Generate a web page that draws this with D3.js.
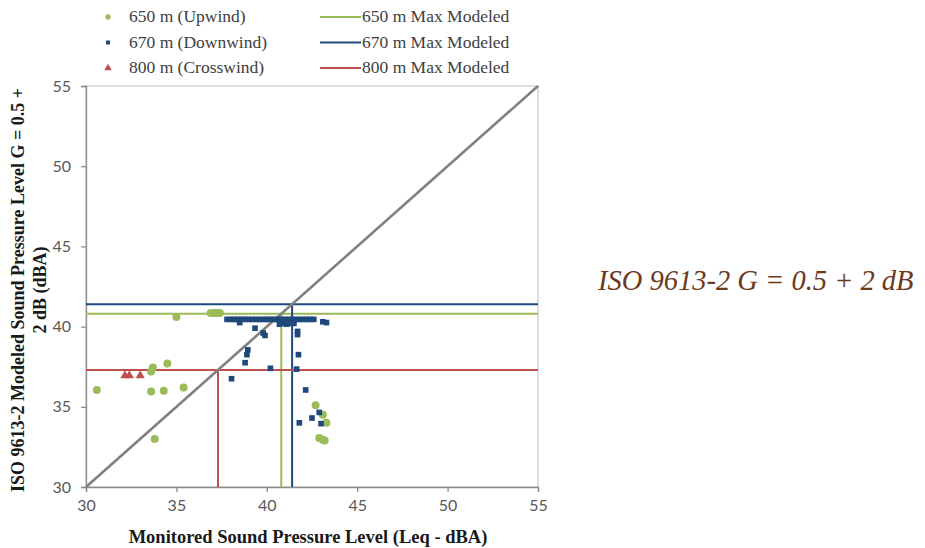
<!DOCTYPE html>
<html>
<head>
<meta charset="utf-8">
<script src="https://cdn.jsdelivr.net/npm/d3@7"></script>
<style>
    body { margin: 0; background: #fff; }
    svg text { font-family: "Liberation Serif", "DejaVu Serif", serif; }
    .tick text { font-family: Lato, "Liberation Sans", sans-serif; }
</style>
</head>
<body>
<div id="chart"></div>
<script>
// Chart data
const upwindX = [30.6, 33.7, 33.6, 34.5, 33.6, 34.3, 35.4, 33.8, 35.0, 36.9, 37.1, 37.2, 37.4,
    42.7, 43.1, 43.3, 42.9, 43.1, 43.2];
const upwindY = [36.05, 37.45, 37.2, 37.7, 35.95, 36.0, 36.2, 33.0, 40.6, 40.85, 40.85, 40.85, 40.85,
    35.1, 34.5, 34.0, 33.05, 32.95, 32.9];

const downwindX = [37.8, 38.0, 38.2, 38.4, 38.6, 38.8, 39.0, 39.2, 39.4, 39.6, 39.8, 40.0, 40.2,
    40.4, 40.6, 40.8, 41.0, 41.2, 41.4, 41.6, 41.8, 42.0, 42.2, 42.4, 42.6, 43.1, 43.3,
    38.5, 40.7, 40.9, 41.1, 41.3, 41.5,
    39.35, 39.8, 39.9, 41.7, 41.7, 38.95, 38.9, 38.8, 38.05, 40.2, 41.65, 41.75,
    42.15, 42.9, 42.5, 43.0, 41.8];
const downwindY = [40.45, 40.45, 40.45, 40.45, 40.45, 40.45, 40.45, 40.45, 40.45, 40.45, 40.45, 40.45, 40.45,
    40.45, 40.45, 40.45, 40.45, 40.45, 40.45, 40.45, 40.45, 40.45, 40.45, 40.45, 40.45, 40.3, 40.25,
    40.25, 40.15, 40.2, 40.15, 40.2, 40.2,
    39.9, 39.6, 39.45, 39.7, 39.5, 38.55, 38.25, 37.75, 36.75, 37.4, 37.35, 38.25,
    36.05, 34.65, 34.3, 33.95, 34.0];

const crosswindX = [32.15, 32.4, 33.0];
const crosswindY = [36.95, 36.95, 36.95];

// Max modeled levels (650 m, 670 m, 800 m)
const maxModeled = [40.8, 41.4, 37.3];

const pointNames = ["650 m (Upwind)", "670 m (Downwind)", "800 m (Crosswind)"];
const lineNames = ["650 m Max Modeled", "670 m Max Modeled", "800 m Max Modeled"];
const colors = ["#9bbb59", "#1f497d", "#c0504d"];
const ticks = [30, 35, 40, 45, 50, 55];

// Layout
const width = 925, height = 548;
const plotLeft = 86, plotRight = 538, plotTop = 86, plotBottom = 487;

let svg = d3.select("#chart")
    .append("svg")
    .attr("width", width)
    .attr("height", height);

let x = d3.scaleLinear().domain([30, 55]).range([plotLeft, plotRight]);
let y = d3.scaleLinear().domain([30, 55]).range([plotBottom, plotTop]);

// Plot area border
svg.append("rect")
    .attr("x", plotLeft).attr("y", plotTop)
    .attr("width", plotRight - plotLeft).attr("height", plotBottom - plotTop)
    .attr("fill", "none")
    .attr("stroke", "#c8c8c8")
    .attr("stroke-width", 1.2);

// Axes
let xAxis = svg.append("g")
    .attr("transform", `translate(0,${plotBottom})`)
    .call(d3.axisBottom(x).tickValues(ticks).tickSize(5).tickPadding(8));
let yAxis = svg.append("g")
    .attr("transform", `translate(${plotLeft},0)`)
    .call(d3.axisLeft(y).tickValues(ticks).tickSize(5).tickPadding(10));
[xAxis, yAxis].forEach(a => {
    a.selectAll("path, line").attr("stroke", "#8c8c8c").attr("stroke-width", 1.3);
    a.selectAll("text").attr("fill", "#595959").style("font-size", "16px");
});

// Max modeled lines: full-width horizontal plus vertical up to the diagonal
maxModeled.forEach((v, i) => {
    svg.append("line")
        .attr("x1", x(30)).attr("x2", x(55))
        .attr("y1", y(v)).attr("y2", y(v))
        .attr("stroke", colors[i]).attr("stroke-width", 2);
    svg.append("line")
        .attr("x1", x(v)).attr("x2", x(v))
        .attr("y1", y(30)).attr("y2", y(v))
        .attr("stroke", colors[i]).attr("stroke-width", 2);
});

// 1:1 diagonal
svg.append("line")
    .attr("x1", x(30)).attr("y1", y(30))
    .attr("x2", x(55)).attr("y2", y(55))
    .attr("stroke", "#808080").attr("stroke-width", 2.6);

// Points
function drawPoints(xs, ys, type, size, color) {
    svg.append("g").selectAll("path")
        .data(xs.map((d, i) => [d, ys[i]]))
        .enter()
        .append("path")
        .attr("d", d3.symbol().type(type).size(size))
        .attr("transform", d => `translate(${x(d[0])},${y(d[1])})`)
        .attr("fill", color);
}
drawPoints(upwindX, upwindY, d3.symbolCircle, 50, colors[0]);
drawPoints(downwindX, downwindY, d3.symbolSquare, 32, colors[1]);
drawPoints(crosswindX, crosswindY, d3.symbolTriangle, 36, colors[2]);

// Legend
let symbols = [d3.symbolCircle, d3.symbolSquare, d3.symbolTriangle];
let symSizes = [22, 16, 24];
pointNames.forEach((name, i) => {
    let ly = 17 + i * 25.5;
    svg.append("path")
        .attr("d", d3.symbol().type(symbols[i]).size(symSizes[i]))
        .attr("transform", `translate(108,${ly})`)
        .attr("fill", colors[i]);
    svg.append("text")
        .attr("x", 129).attr("y", ly + 5)
        .attr("fill", "#404040")
        .style("font-size", "17.5px")
        .text(name);
});
lineNames.forEach((name, i) => {
    let ly = 17 + i * 25.5;
    svg.append("line")
        .attr("x1", 320).attr("x2", 361)
        .attr("y1", ly).attr("y2", ly)
        .attr("stroke", colors[i]).attr("stroke-width", 2);
    svg.append("text")
        .attr("x", 362).attr("y", ly + 5)
        .attr("fill", "#404040")
        .style("font-size", "17.5px")
        .text(name);
});

// Axis titles
svg.append("text")
    .attr("x", 308).attr("y", 543)
    .attr("text-anchor", "middle")
    .attr("fill", "#1a1a1a")
    .style("font-size", "18.5px").style("font-weight", "bold")
    .text("Monitored Sound Pressure Level (Leq - dBA)");

let yTitle = svg.append("text")
    .attr("transform", "translate(0,290) rotate(-90)")
    .attr("text-anchor", "middle")
    .attr("fill", "#1a1a1a")
    .style("font-size", "18px").style("font-weight", "bold");
yTitle.append("tspan").attr("x", 0).attr("y", 24).text("ISO 9613-2 Modeled Sound Pressure Level G = 0.5 +");
yTitle.append("tspan").attr("x", 0).attr("y", 46).text("2 dB (dBA)");

// Side annotation
svg.append("text")
    .attr("x", 598).attr("y", 290)
    .attr("fill", "#6b3a1e")
    .style("font-size", "28.5px").style("font-style", "italic")
    .text("ISO 9613-2 G = 0.5 + 2 dB");
</script>
</body>
</html>
